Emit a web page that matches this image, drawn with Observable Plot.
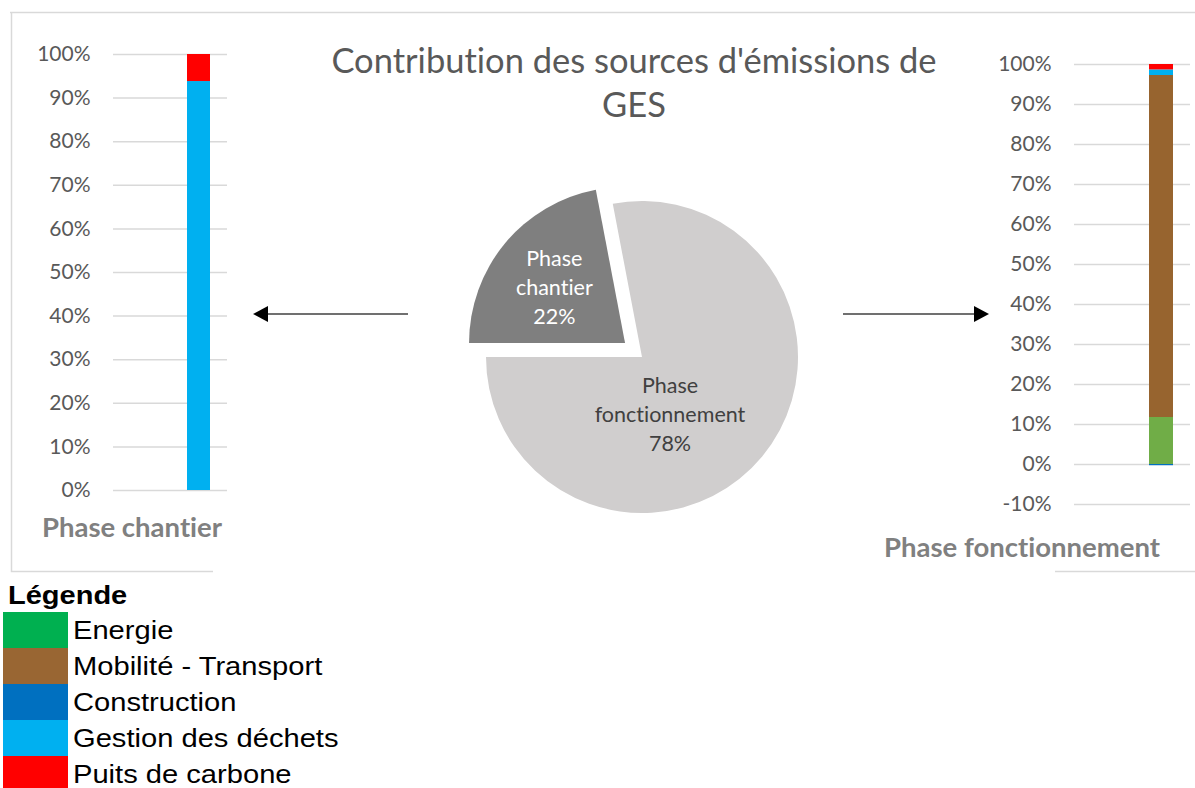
<!DOCTYPE html>
<html><head><meta charset="utf-8">
<script src="https://cdn.jsdelivr.net/npm/d3@7"></script>
<script src="https://cdn.jsdelivr.net/npm/@observablehq/plot@0.6"></script>
<style>
body{margin:0;background:#fff;}
#root{position:relative;width:1195px;height:788px;overflow:hidden;font-family:Lato,sans-serif;font-variant-ligatures:none;}
#root svg text{font-variant-ligatures:none;}
#root > svg, #root > div{position:absolute;}
.ttl{color:#595959;font-size:34.5px;line-height:44px;text-align:center;white-space:pre;}
.axt{color:#808080;font-weight:bold;font-size:27.5px;line-height:26px;text-align:center;white-space:nowrap;}
.leg{font-family:"Liberation Sans",Arial,sans-serif;color:#000;transform-origin:0 50%;white-space:nowrap;}
</style></head><body><div id="root"></div>
<script>
// ---- data ----
const categories = ["Energie","Mobilité - Transport","Construction","Gestion des déchets","Puits de carbone"];
const legendColors = ["#00B050","#996633","#0070C0","#00B0F0","#FF0000"];
const barColors = ["#70AD47","#97642F","#0070C0","#00B0F0","#FF0000"];
const chantierValues = [0, 0, 0, 0.938, 0.062];
const fonctionnementValues = [0.1175, 0.855, -0.003, 0.014, 0.0135];
const pieLabels = ["Phase chantier", "Phase fonctionnement"];
const pieValues = [0.22, 0.78];
const pieColors = ["#7F7F7F", "#D0CECE"];
const pieTextColors = ["#FFFFFF", "#404040"];
const ticksLeft = [0,0.1,0.2,0.3,0.4,0.5,0.6,0.7,0.8,0.9,1];
const ticksRight = [-0.1,0,0.1,0.2,0.3,0.4,0.5,0.6,0.7,0.8,0.9,1];
const titleText = "Contribution des sources d'émissions de\nGES";
const legendTitle = "Légende";

const root = document.getElementById("root");
const pct = v => Math.round(v * 100) + "%";

function barChart(phase, values, ticks, opts) {
  const data = categories.map((c, i) => ({phase, cat: c, v: values[i]})).filter(d => d.v !== 0);
  const p = Plot.plot({
    width: opts.width, height: opts.height,
    marginLeft: opts.marginLeft, marginRight: opts.marginRight, marginTop: opts.marginTop, marginBottom: opts.marginBottom,
    style: {fontFamily: "Lato", fontSize: "21px", color: "#595959", background: "transparent", overflow: "visible"},
    x: {type: "band", domain: [phase], range: opts.barRange, padding: 0, axis: null},
    y: {domain: opts.domain, axis: null},
    color: {domain: categories, range: barColors},
    marks: [
      Plot.ruleY(ticks, {stroke: "#d9d9d9", strokeWidth: 1.5}),
      Plot.axisY(ticks, {tickFormat: pct, tickSize: 0, tickPadding: opts.tickPadding, fontSize: 21, label: null, fill: "#595959"}),
      Plot.barY(data, {x: "phase", y: "v", fill: "cat"})
    ]
  });
  p.style.left = opts.left + "px";
  p.style.top = "0px";
  root.appendChild(p);
}

barChart("Phase chantier", chantierValues, ticksLeft, {
  left: 0, width: 240, height: 500, marginLeft: 113, marginRight: 13, marginTop: 54, marginBottom: 10,
  barRange: [187, 210], domain: [0, 1], tickPadding: 23
});
barChart("Phase fonctionnement", fonctionnementValues, ticksRight, {
  left: 950, width: 245, height: 514, marginLeft: 124, marginRight: 5, marginTop: 64, marginBottom: 10,
  barRange: [199, 223], domain: [-0.1, 1], tickPadding: 23
});

// ---- pie + decorations ----
const cx = 642, cy = 357, R = 156, explode = 22;
const pieData = pieLabels.map((l, i) => ({label: l, value: pieValues[i], color: pieColors[i], text: pieTextColors[i]}));
const arcs = d3.pie().sort(null).value(d => d.value).startAngle(1.5 * Math.PI).endAngle(3.5 * Math.PI)(pieData);

function pieMark() {
  const g = d3.create("svg:g");
  // frame lines
  const fr = g.append("g").attr("stroke", "#d9d9d9").attr("stroke-width", 1.5).attr("fill", "none");
  fr.append("path").attr("d", "M10,12.5H1195");
  fr.append("path").attr("d", "M11.5,12V571.5H213");
  fr.append("path").attr("d", "M1055,571.5H1195");
  // arrows
  const ar = g.append("g");
  ar.append("path").attr("d", "M408,314H265").attr("stroke", "#404040").attr("stroke-width", 1.6);
  ar.append("path").attr("d", "M253,314L268,306L268,322Z").attr("fill", "#000");
  ar.append("path").attr("d", "M843,314H977").attr("stroke", "#404040").attr("stroke-width", 1.6);
  ar.append("path").attr("d", "M989,314L974,306L974,322Z").attr("fill", "#000");
  // slices
  const arc = d3.arc().innerRadius(0).outerRadius(R);
  arcs.forEach((a, i) => {
    const mid = (a.startAngle + a.endAngle) / 2;
    const off = i === 0 ? explode : 0;
    const ox = cx + Math.sin(mid) * off, oy = cy - Math.cos(mid) * off;
    g.append("path").attr("d", arc(a)).attr("transform", `translate(${ox},${oy})`)
      .attr("fill", a.data.color);
    let lx, ly;
    if (i === 0) { lx = ox + Math.sin(mid) * 97 + 4; ly = oy - Math.cos(mid) * 97 + 6; }
    else { lx = cx + 28; ly = cy + 57; }
    const words = a.data.label.split(" ");
    const lines = [words[0], words.slice(1).join(" "), pct(a.data.value)];
    const t = g.append("text").attr("text-anchor", "middle").attr("fill", a.data.text)
      .attr("font-family", "Lato").attr("font-size", 21.5);
    lines.forEach((ln, k) => t.append("tspan").attr("x", lx).attr("y", ly + (k - 1) * 29).attr("dy", "0.35em").text(ln));
  });
  return g.node();
}

const pie = Plot.plot({
  width: 1195, height: 600, margin: 0,
  style: {background: "transparent", overflow: "visible"},
  x: {domain: [0, 1195], axis: null}, y: {domain: [0, 600], axis: null},
  marks: [pieMark]
});
pie.style.left = "0px"; pie.style.top = "0px";
root.insertBefore(pie, root.firstChild);

// ---- texts ----
const title = document.createElement("div");
title.className = "ttl"; title.textContent = titleText;
Object.assign(title.style, {left: "234px", width: "800px", top: "38px"});
root.appendChild(title);

function axTitle(text, cxp, top) {
  const d = document.createElement("div");
  d.className = "axt"; d.textContent = text;
  Object.assign(d.style, {left: (cxp - 200) + "px", width: "400px", top: top + "px"});
  root.appendChild(d);
}
axTitle("Phase chantier", 132, 514);
axTitle("Phase fonctionnement", 1022, 534);

// ---- legend ----
const lt = document.createElement("div");
lt.className = "leg"; lt.textContent = legendTitle;
Object.assign(lt.style, {left: "8px", top: "580px", fontWeight: "bold", fontSize: "25px", lineHeight: "30px", transform: "scaleX(1.16)"});
root.appendChild(lt);
categories.forEach((c, i) => {
  const sw = document.createElement("div");
  Object.assign(sw.style, {left: "3px", top: (612 + i * 36) + "px", width: "65px", height: "36px", background: legendColors[i]});
  root.appendChild(sw);
  const tx = document.createElement("div");
  tx.className = "leg"; tx.textContent = c;
  Object.assign(tx.style, {left: "73px", top: (612 + i * 36) + "px", fontSize: "26px", lineHeight: "36px", transform: "scaleX(1.12)"});
  root.appendChild(tx);
});
</script></body></html>
